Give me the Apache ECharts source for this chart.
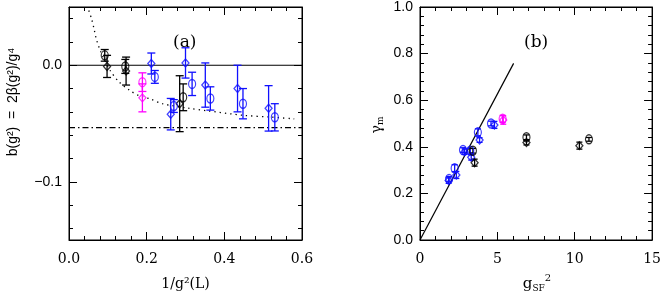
<!DOCTYPE html>
<html><head><meta charset="utf-8">
<script src="https://cdn.jsdelivr.net/npm/echarts@6/dist/echarts.min.js"></script>
<style>html,body{margin:0;padding:0;background:#fff}#c{width:664px;height:297px}</style>
</head><body><div id="c"></div>
<script>
// ---------- Panel (a) data: [x, y, err] ----------
const aBlackCircles   = [[0.092, 0.0085, 0.005], [0.145, -0.001, 0.006], [0.294, -0.0275, 0.0115]];
const aBlackDiamonds  = [[0.098, -0.001, 0.0095], [0.147, -0.005, 0.012], [0.285, -0.033, 0.024]];
const aMagentaCircles = [[0.189, -0.0145, 0.008]];
const aMagentaDiamonds= [[0.189, -0.028, 0.012]];
const aBlueDiamonds   = [[0.212, 0.0015, 0.009], [0.262, -0.042, 0.0135], [0.300, 0.002, 0.013],
                         [0.351, -0.017, 0.019], [0.434, -0.020, 0.020], [0.514, -0.037, 0.0195]];
const aBlueCircles    = [[0.221, -0.010, 0.0055], [0.270, -0.035, 0.0055], [0.317, -0.016, 0.010],
                         [0.364, -0.0285, 0.010], [0.448, -0.033, 0.013], [0.530, -0.0447, 0.0117]];
const aCurveX = [0.051, 0.058, 0.064, 0.070, 0.081, 0.094, 0.107, 0.128, 0.158, 0.180, 0.210, 0.240, 0.310, 0.354, 0.450, 0.520, 0.580];
const aCurveY = [0.047, 0.040, 0.032, 0.023, 0.012, 0.003, -0.005, -0.014, -0.022, -0.026, -0.029, -0.033, -0.037, -0.039, -0.043, -0.0445, -0.046];
const aZeroLine = [[0, 0], [0.6, 0]];
const aDashDotLine = [[0, -0.0535], [0.6, -0.0535]];
const aYLabelValues = [0, -0.1];
const aYMinorValues = [0.04, 0.02, -0.02, -0.04, -0.06, -0.08, -0.12, -0.14];

// ---------- Panel (b) data: [x, y, err] ----------
const bBlueCircles   = [[1.88, 0.262, 0.010], [2.24, 0.308, 0.015], [2.78, 0.386, 0.010],
                        [3.25, 0.383, 0.010], [3.74, 0.462, 0.015], [4.59, 0.500, 0.010]];
const bBlueDiamonds  = [[1.85, 0.255, 0.012], [2.35, 0.279, 0.015], [2.88, 0.379, 0.012],
                        [3.31, 0.355, 0.012], [3.85, 0.429, 0.010], [4.81, 0.494, 0.015]];
const bBlackCircles  = [[3.42, 0.383, 0.010], [6.88, 0.441, 0.010], [10.92, 0.432, 0.008]];
const bBlackDiamonds = [[3.53, 0.332, 0.015], [6.88, 0.418, 0.010], [10.30, 0.405, 0.015]];
const bMagentaCircles  = [[5.34, 0.520, 0.015]];
const bMagentaDiamonds = [[5.38, 0.515, 0.018]];
const bLineX = [0, 6.05];
const bLineY = [0, 0.758];

const BLUE = '#1010ff', MAG = '#ff00ff', BLK = '#000000';
const serif = '"DejaVu Serif", serif';
const sans = '"Liberation Sans", Arial, sans-serif';

function errSeries(data, color, xi, yi, cap) {
  return {
    type: 'custom', xAxisIndex: xi, yAxisIndex: yi, silent: true, z: 3,
    data: data.map(d => [d[0], d[1] - d[2], d[1] + d[2]]),
    encode: { x: 0, y: [1, 2] },
    renderItem: function (params, api) {
      const x = api.value(0);
      const p1 = api.coord([x, api.value(2)]);
      const p2 = api.coord([x, api.value(1)]);
      const st = { stroke: color, lineWidth: 1.3 };
      return { type: 'group', children: [
        { type: 'line', shape: { x1: p1[0], y1: p1[1], x2: p2[0], y2: p2[1] }, style: st },
        { type: 'line', shape: { x1: p1[0] - cap, y1: p1[1], x2: p1[0] + cap, y2: p1[1] }, style: st },
        { type: 'line', shape: { x1: p2[0] - cap, y1: p2[1], x2: p2[0] + cap, y2: p2[1] }, style: st }
      ]};
    }
  };
}
function symSeries(data, color, symbol, size, xi, yi) {
  return {
    type: 'scatter', xAxisIndex: xi, yAxisIndex: yi, z: 4, silent: true,
    symbol: symbol, symbolSize: size,
    itemStyle: { color: 'rgba(0,0,0,0)', borderColor: color, borderWidth: 1.3 },
    data: data.map(d => [d[0], d[1]])
  };
}
const CIRC_A = [7, 9], DIAM_A = [7, 8], CIRC_B = [7, 9], DIAM_B = [7, 8];

const axLine = { show: true, onZero: false, lineStyle: { color: '#000', width: 1 } };
const noLine = { show: false, onZero: false };
const option = {
  animation: false,
  backgroundColor: '#fff',
  grid: [
    { left: 69, top: 7, width: 233, height: 233, show: true, borderColor: '#000', borderWidth: 1, backgroundColor: 'transparent' },
    { left: 420, top: 7, width: 234, height: 233, show: true, borderColor: '#000', borderWidth: 1, backgroundColor: 'transparent' }
  ],
  xAxis: [
    { gridIndex: 0, type: 'value', min: 0, max: 0.6, interval: 0.2, position: 'bottom',
      axisLine: axLine, splitLine: { show: false },
      axisTick: { inside: true, length: 8, lineStyle: { color: '#000' } },
      minorTick: { show: true, splitNumber: 5, length: 4, lineStyle: { color: '#000' } },
      axisLabel: { margin: 12, fontFamily: serif, fontSize: 14, color: '#000', formatter: v => v.toFixed(1) },
      name: '1/g²(L)', nameLocation: 'middle', nameGap: 37,
      nameTextStyle: { fontFamily: serif, fontSize: 14, color: '#000' } },
    { gridIndex: 0, type: 'value', min: 0, max: 0.6, interval: 0.2, position: 'top',
      axisLine: axLine, splitLine: { show: false }, axisLabel: { show: false },
      axisTick: { inside: true, length: 8, lineStyle: { color: '#000' } },
      minorTick: { show: true, splitNumber: 5, length: 4, lineStyle: { color: '#000' } } },
    { gridIndex: 1, type: 'value', min: 0, max: 15, interval: 5, position: 'bottom',
      axisLine: axLine, splitLine: { show: false },
      axisTick: { inside: true, length: 8, lineStyle: { color: '#000' } },
      minorTick: { show: true, splitNumber: 5, length: 4, lineStyle: { color: '#000' } },
      axisLabel: { margin: 12, fontFamily: serif, fontSize: 14, color: '#000' } },
    { gridIndex: 1, type: 'value', min: 0, max: 15, interval: 5, position: 'top',
      axisLine: axLine, splitLine: { show: false }, axisLabel: { show: false },
      axisTick: { inside: true, length: 8, lineStyle: { color: '#000' } },
      minorTick: { show: true, splitNumber: 5, length: 4, lineStyle: { color: '#000' } } }
  ],
  yAxis: [
    { gridIndex: 0, type: 'value', min: -0.15, max: 0.05, position: 'left',
      axisLine: axLine, splitLine: { show: false },
      axisTick: { inside: true, length: 8, customValues: aYLabelValues, lineStyle: { color: '#000' } },
      axisLabel: { customValues: aYLabelValues, margin: 7, fontFamily: sans, fontSize: 14, color: '#000',
        formatter: v => (v < 0 ? '\u2212' : '') + Math.abs(v).toFixed(1) } },
    { gridIndex: 0, type: 'value', min: -0.15, max: 0.05, position: 'left',
      axisLine: noLine, splitLine: { show: false }, axisLabel: { show: false },
      axisTick: { inside: true, length: 4, customValues: aYMinorValues, lineStyle: { color: '#000' } } },
    { gridIndex: 0, type: 'value', min: -0.15, max: 0.05, position: 'right',
      axisLine: axLine, splitLine: { show: false }, axisLabel: { show: false },
      axisTick: { inside: true, length: 8, customValues: aYLabelValues, lineStyle: { color: '#000' } } },
    { gridIndex: 0, type: 'value', min: -0.15, max: 0.05, position: 'right',
      axisLine: noLine, splitLine: { show: false }, axisLabel: { show: false },
      axisTick: { inside: true, length: 4, customValues: aYMinorValues, lineStyle: { color: '#000' } } },
    { gridIndex: 1, type: 'value', min: 0, max: 1, interval: 0.2, position: 'left',
      axisLine: axLine, splitLine: { show: false },
      axisTick: { inside: true, length: 8, lineStyle: { color: '#000' } },
      minorTick: { show: true, splitNumber: 5, length: 4, lineStyle: { color: '#000' } },
      axisLabel: { margin: 7, fontFamily: sans, fontSize: 14, color: '#000', formatter: v => v.toFixed(1) } },
    { gridIndex: 1, type: 'value', min: 0, max: 1, interval: 0.2, position: 'right',
      axisLine: axLine, splitLine: { show: false }, axisLabel: { show: false },
      axisTick: { inside: true, length: 8, lineStyle: { color: '#000' } },
      minorTick: { show: true, splitNumber: 5, length: 4, lineStyle: { color: '#000' } } }
  ],
  graphic: [
    { type: 'text', left: 173, top: 34, style: { text: '(a)', font: '17px ' + serif, fill: '#000' } },
    { type: 'text', left: 524, top: 34, style: { text: '(b)', font: '17px ' + serif, fill: '#000' } },
    { type: 'text', x: 13, y: 102, rotation: Math.PI / 2,
      style: { text: 'b(g²)  =  2β(g²)/g⁴', font: '14px ' + sans, fill: '#000', align: 'center', verticalAlign: 'middle' } },
    { type: 'text', x: 377, y: 125, rotation: Math.PI / 2,
      style: { text: '{g|γ}{m|m}', align: 'center', verticalAlign: 'middle',
        rich: { g: { font: '14px ' + serif, fill: '#000' }, m: { font: '9px ' + serif, fill: '#000', padding: [8, 0, 0, 0] } } } },
    { type: 'text', x: 537, y: 284,
      style: { text: '{g|g}{s|SF}{p|2}', align: 'center', verticalAlign: 'middle',
        rich: { g: { font: '15px ' + serif, fill: '#000' }, s: { font: '9px ' + serif, fill: '#000', padding: [9, 0, 0, 0] },
                p: { font: '10px ' + serif, fill: '#000', padding: [0, 0, 12, 0] } } } }
  ],
  series: [
    { type: 'line', xAxisIndex: 0, yAxisIndex: 0, data: aZeroLine, showSymbol: false, silent: true,
      lineStyle: { color: '#000', width: 1.2 }, z: 2 },
    { type: 'line', xAxisIndex: 0, yAxisIndex: 0, data: aDashDotLine, showSymbol: false, silent: true,
      lineStyle: { color: '#000', width: 1.1, type: [6, 3, 1.5, 3] }, z: 2 },
    { type: 'line', xAxisIndex: 0, yAxisIndex: 0, data: aCurveX.map((x, i) => [x, aCurveY[i]]), showSymbol: false, silent: true,
      smooth: 0.3, lineStyle: { color: '#000', width: 1.3, type: [1.3, 4] }, z: 2 },
    errSeries(aBlackCircles, BLK, 0, 0, 4), errSeries(aBlackDiamonds, BLK, 0, 0, 4),
    errSeries(aMagentaCircles, MAG, 0, 0, 4), errSeries(aMagentaDiamonds, MAG, 0, 0, 4),
    errSeries(aBlueCircles, BLUE, 0, 0, 4), errSeries(aBlueDiamonds, BLUE, 0, 0, 4),
    symSeries(aBlackCircles, BLK, 'circle', CIRC_A, 0, 0), symSeries(aBlackDiamonds, BLK, 'diamond', DIAM_A, 0, 0),
    symSeries(aMagentaCircles, MAG, 'circle', CIRC_A, 0, 0), symSeries(aMagentaDiamonds, MAG, 'diamond', DIAM_A, 0, 0),
    symSeries(aBlueCircles, BLUE, 'circle', CIRC_A, 0, 0), symSeries(aBlueDiamonds, BLUE, 'diamond', DIAM_A, 0, 0),

    { type: 'line', xAxisIndex: 2, yAxisIndex: 4, data: bLineX.map((x, i) => [x, bLineY[i]]), showSymbol: false, silent: true,
      lineStyle: { color: '#000', width: 1.2 }, z: 2 },
    errSeries(bBlueCircles, BLUE, 2, 4, 3), errSeries(bBlueDiamonds, BLUE, 2, 4, 3),
    errSeries(bBlackCircles, BLK, 2, 4, 3), errSeries(bBlackDiamonds, BLK, 2, 4, 3),
    errSeries(bMagentaCircles, MAG, 2, 4, 3), errSeries(bMagentaDiamonds, MAG, 2, 4, 3),
    symSeries(bBlueCircles, BLUE, 'circle', CIRC_B, 2, 4), symSeries(bBlueDiamonds, BLUE, 'diamond', DIAM_B, 2, 4),
    symSeries(bBlackCircles, BLK, 'circle', CIRC_B, 2, 4), symSeries(bBlackDiamonds, BLK, 'diamond', DIAM_B, 2, 4),
    symSeries(bMagentaCircles, MAG, 'circle', CIRC_B, 2, 4), symSeries(bMagentaDiamonds, MAG, 'diamond', DIAM_B, 2, 4)
  ]
};
const chart = echarts.init(document.getElementById('c'), null, { renderer: 'canvas' });
chart.setOption(option);
</script>
</body></html>
